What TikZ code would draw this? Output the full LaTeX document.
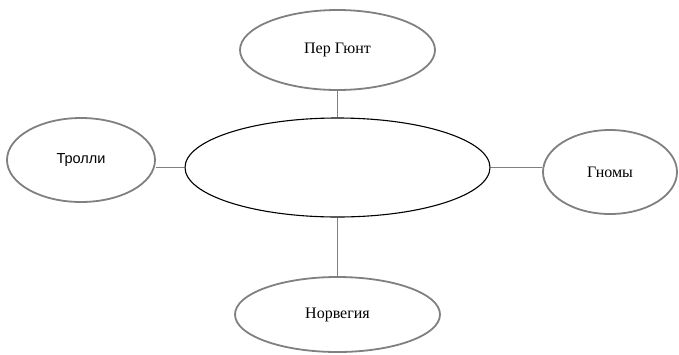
\documentclass[tikz,border=0pt]{standalone}
\usepackage{fontspec}
\setmainfont{Liberation Serif}
\newfontfamily\arialfont{Liberation Sans}
\usetikzlibrary{shapes.geometric}

\begin{document}
\begin{tikzpicture}[x=1pt,y=-1pt,
  outer/.style={ellipse,draw=gray,line width=1.8pt,inner sep=0pt,font=\fontsize{16}{19}\selectfont},
  centre/.style={ellipse,draw=black,line width=1.1pt,inner sep=0pt},
  link/.style={draw=gray,line width=1.5pt}]
\useasboundingbox (0,0) rectangle (679,354);
\node[centre, minimum width=305pt, minimum height=99pt] at (337.5,167.5) (M) {};
\node[outer, minimum width=195pt, minimum height=80pt] at (337.5,50) (T) {Пер Гюнт};
\node[outer, minimum width=148pt, minimum height=84pt, font=\arialfont\fontsize{14.5}{17}\selectfont] at (81,160) (L) {Тролли};
\node[outer, minimum width=134pt, minimum height=84pt] at (610,172) (R) {Гномы};
\node[outer, minimum width=205pt, minimum height=75pt] at (337.5,314.5) (B) {Норвегия};
\draw[link] (T) -- (M);
\draw[link] (M) -- (B);
\draw[link] (M.west) -- (M.west -| L.east);
\draw[link] (M.east) -- (M.east -| R.west);
\end{tikzpicture}
\end{document}
